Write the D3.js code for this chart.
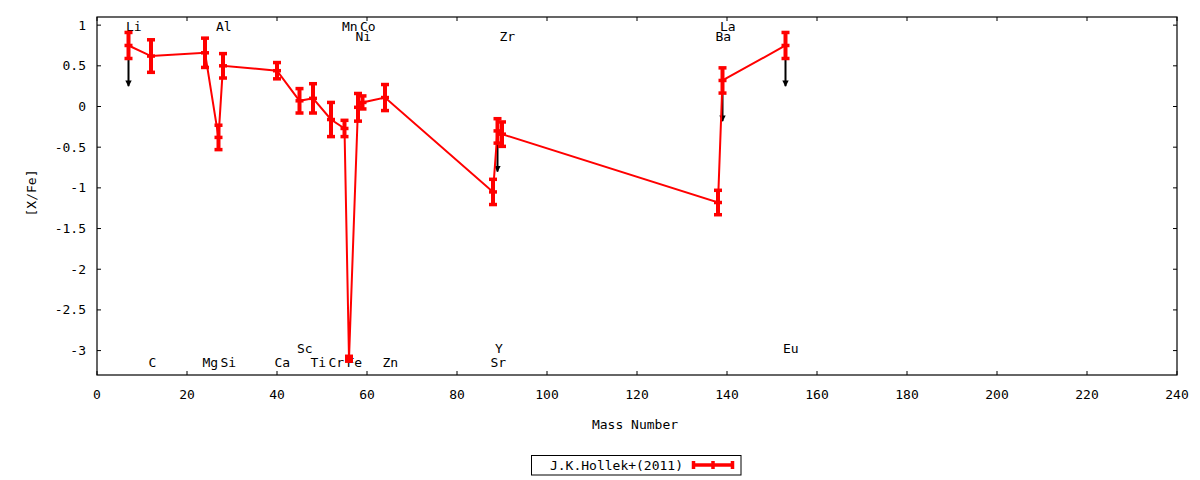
<!DOCTYPE html>
<html>
<head>
  <meta charset="utf-8">
  <script src="https://d3js.org/d3.v7.min.js"></script>
  <style>
    body { margin: 0; background: #fff; }
    svg text { font-family: "DejaVu Sans Mono", monospace; font-size: 13px; fill: #000; }
  </style>
</head>
<body>
  <svg width="1200" height="480"></svg>

  <script>
    // Abundances, J.K.Hollek+(2011)
    var elements = ["Li", "C", "Mg", "Al", "Si", "Ca", "Sc", "Ti", "Cr", "Mn",
                    "Fe", "Ni", "Co", "Zn", "Sr", "Y", "Zr", "Ba", "La", "Eu"];
    var massNumbers = [7, 12, 24, 27, 28, 40, 45, 48, 52, 55,
                       56, 58, 59, 64, 88, 89, 90, 138, 139, 153];
    var xfeValues = [0.75, 0.62, 0.66, -0.38, 0.50, 0.44, 0.07, 0.10, -0.16, -0.27,
                     -3.10, -0.01, 0.05, 0.11, -1.05, -0.30, -0.34, -1.18, 0.32, 0.75];
    var xfeErrors = [0.16, 0.20, 0.18, 0.15, 0.15, 0.10, 0.15, 0.18, 0.21, 0.10,
                     0.03, 0.17, 0.08, 0.16, 0.155, 0.15, 0.15, 0.15, 0.155, 0.16];
    var upperLimits = ["Li", "Y", "La", "Eu"];
    var arrowLength = 0.5;

    // element name labels: row 0/1 at the top, 2/3 at the bottom
    var labelNames = ["Li", "Al", "Mn", "Co", "La", "Ni", "Zr", "Ba", "Sc", "Y", "Eu",
                      "C", "Mg", "Si", "Ca", "Ti", "Cr", "Fe", "Zn", "Sr"];
    var labelMass = [7, 27, 55, 59, 139, 58, 90, 138, 45, 89, 153,
                     12, 24, 28, 40, 48, 52, 56, 64, 88];
    var labelRow = [0, 0, 0, 0, 0, 1, 1, 1, 2, 2, 2,
                    3, 3, 3, 3, 3, 3, 3, 3, 3];
    var rowLevels = [0.98, 0.86, -2.98, -3.15];

    var xTicks = d3.range(0, 241, 20);
    var yTicks = [1, 0.5, 0, -0.5, -1, -1.5, -2, -2.5, -3];
    var legendLabel = "J.K.Hollek+(2011)";

    var svg = d3.select("svg");
    var plotL = 97, plotR = 1177, plotT = 17, plotB = 375;

    var x = d3.scaleLinear().domain([0, 240]).range([plotL, plotR]);
    var y = d3.scaleLinear().domain([-3.3, 1.1]).range([plotB, plotT]);

    svg.append("rect").attr("width", 1200).attr("height", 480).attr("fill", "#fff");

    // ticks, inside the frame and mirrored
    var tickLen = 4;
    xTicks.forEach(function(t) {
      svg.append("line").attr("x1", x(t)).attr("x2", x(t))
        .attr("y1", plotB).attr("y2", plotB - tickLen).attr("stroke", "#000");
      svg.append("line").attr("x1", x(t)).attr("x2", x(t))
        .attr("y1", plotT).attr("y2", plotT + tickLen).attr("stroke", "#000");
      svg.append("text").attr("x", x(t)).attr("y", plotB + 24)
        .attr("text-anchor", "middle").text(t);
    });
    yTicks.forEach(function(t) {
      svg.append("line").attr("x1", plotL).attr("x2", plotL + tickLen)
        .attr("y1", y(t)).attr("y2", y(t)).attr("stroke", "#000");
      svg.append("line").attr("x1", plotR).attr("x2", plotR - tickLen)
        .attr("y1", y(t)).attr("y2", y(t)).attr("stroke", "#000");
      svg.append("text").attr("x", plotL - 11).attr("y", y(t) + 4.5)
        .attr("text-anchor", "end").text(t);
    });

    svg.append("rect")
      .attr("x", plotL).attr("y", plotT)
      .attr("width", plotR - plotL).attr("height", plotB - plotT)
      .attr("fill", "none").attr("stroke", "#000").attr("stroke-width", 1.2);

    // axis titles
    svg.append("text").attr("x", 635).attr("y", 429)
      .attr("text-anchor", "middle").text("Mass Number");
    svg.append("text")
      .attr("transform", "translate(36,193) rotate(-90)")
      .attr("text-anchor", "middle").text("[X/Fe]");

    // element labels
    labelNames.forEach(function(name, i) {
      svg.append("text")
        .attr("x", x(labelMass[i]) - 2.5)
        .attr("y", y(rowLevels[labelRow[i]]) + 4.5)
        .text(name);
    });

    var points = elements.map(function(el, i) {
      return { el: el, m: massNumbers[i], v: xfeValues[i], e: xfeErrors[i] };
    });

    // upper limit arrows
    svg.append("defs").append("marker")
      .attr("id", "head")
      .attr("viewBox", "0 0 10 10")
      .attr("refX", 9).attr("refY", 5)
      .attr("markerWidth", 3.2).attr("markerHeight", 3.2)
      .attr("orient", "auto")
      .append("path").attr("d", "M0,0 L10,5 L0,10 z").attr("fill", "#000");

    svg.selectAll(".limit")
      .data(points.filter(function(d) { return upperLimits.indexOf(d.el) >= 0; }))
      .enter().append("line")
      .attr("class", "limit")
      .attr("x1", function(d) { return x(d.m); })
      .attr("x2", function(d) { return x(d.m); })
      .attr("y1", function(d) { return y(d.v); })
      .attr("y2", function(d) { return y(d.v - arrowLength); })
      .attr("stroke", "#000").attr("stroke-width", 2)
      .attr("marker-end", "url(#head)");

    var red = "#ff0000";

    // connecting line
    svg.append("path")
      .datum(points)
      .attr("d", d3.line().x(function(d) { return x(d.m); }).y(function(d) { return y(d.v); }))
      .attr("fill", "none").attr("stroke", red).attr("stroke-width", 2);

    // error bars
    var capW = 8, capH = 3.5;
    var bars = svg.selectAll(".bar").data(points).enter().append("g").attr("class", "bar");
    bars.append("line")
      .attr("x1", function(d) { return x(d.m); })
      .attr("x2", function(d) { return x(d.m); })
      .attr("y1", function(d) { return y(d.v + d.e); })
      .attr("y2", function(d) { return y(d.v - d.e); })
      .attr("stroke", red).attr("stroke-width", 4);
    [1, 0, -1].forEach(function(k) {
      bars.append("rect")
        .attr("x", function(d) { return x(d.m) - capW / 2; })
        .attr("y", function(d) { return y(d.v + k * d.e) - capH / 2; })
        .attr("width", capW).attr("height", capH)
        .attr("fill", red);
    });

    // legend
    var lg = svg.append("g");
    lg.append("rect").attr("x", 531.5).attr("y", 455.5)
      .attr("width", 209.5).attr("height", 19.5)
      .attr("fill", "none").attr("stroke", "#000");
    lg.append("text").attr("x", 683).attr("y", 470)
      .attr("text-anchor", "end").text(legendLabel);
    lg.append("line").attr("x1", 692).attr("x2", 734).attr("y1", 465).attr("y2", 465)
      .attr("stroke", red).attr("stroke-width", 3.5);
    [693.5, 713, 732.5].forEach(function(px) {
      lg.append("rect").attr("x", px - 1.75).attr("y", 461)
        .attr("width", 3.5).attr("height", 8).attr("fill", red);
    });
  </script>
</body>
</html>
